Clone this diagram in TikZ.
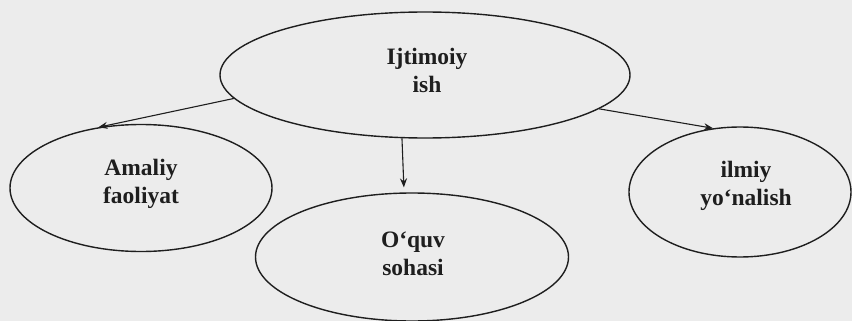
\documentclass[tikz,border=0pt]{standalone}
\usepackage{fontspec}
\setmainfont{Liberation Serif}
\usetikzlibrary{shapes.geometric,arrows.meta}
\definecolor{paper}{RGB}{236,236,236}
\definecolor{ink}{RGB}{30,30,30}
\tikzset{
  oval/.style={ellipse, draw=ink, line width=1.4pt, inner sep=0pt},
  lbl/.style={align=center, text=ink, inner sep=0pt,
    font=\fontsize{23.5}{28}\selectfont\bfseries},
  link/.style={draw=ink, line width=1.1pt, -{Stealth[length=9pt,width=7pt]}}
}
\begin{document}
\begin{tikzpicture}[x=1pt,y=-1pt]
\fill[paper] (0,0) rectangle (852,321);
\useasboundingbox (0,0) rectangle (852,321);
\node[oval, minimum width=410pt, minimum height=126pt] (top) at (425,75) {};
\node[oval, minimum width=262pt, minimum height=127pt] (left) at (141,188) {};
\node[oval, minimum width=313pt, minimum height=128pt] (mid) at (412,257) {};
\node[oval, minimum width=222pt, minimum height=130pt] (right) at (740,192) {};
\node[lbl] (ttop) at (427,70) {Ijtimoiy\\ish};
\node[lbl] (tleft) at (141,184) {Amaliy\\faoliyat};
\node[lbl] (tmid) at (413,254) {O‘quv\\sohasi};
\node[lbl] (tright) at (746,186) {ilmiy\\yo‘nalish};
\draw[link] (top.187.5) -- (left.125.4);
\draw[link, shorten >=5pt] (top.250.7) -- (mid.97.3);
\draw[link] (top.349.7) -- (right.113.6);
\end{tikzpicture}
\end{document}
